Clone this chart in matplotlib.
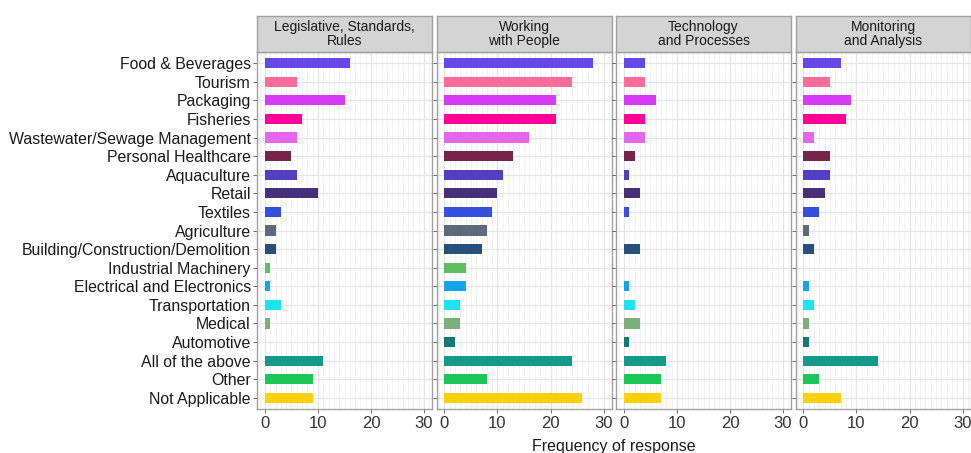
import matplotlib.pyplot as plt
from matplotlib.ticker import MultipleLocator

plt.rcParams['font.family'] = ['Liberation Sans', 'DejaVu Sans']

sectors = ["Food & Beverages", "Tourism", "Packaging", "Fisheries",
           "Wastewater/Sewage Management", "Personal Healthcare",
           "Aquaculture", "Retail", "Textiles", "Agriculture",
           "Building/Construction/Demolition", "Industrial Machinery",
           "Electrical and Electronics", "Transportation", "Medical",
           "Automotive", "All of the above", "Other", "Not Applicable"]

colours = ["#6549E8", "#FF6B9A", "#D63CF5", "#FF0099", "#E466EA",
           "#76254A", "#5240C0", "#45307A", "#3450DD", "#5E6A7C",
           "#27507A", "#5FBF5F", "#16A3EA", "#1DE3EE", "#7CB07A",
           "#117A75", "#159A8A", "#1CC755", "#FFD10A"]

panels = ["Legislative, Standards,\nRules", "Working\nwith People",
          "Technology\nand Processes", "Monitoring\nand Analysis"]

legislative = [16, 6, 15, 7, 6, 5, 6, 10, 3, 2, 2, 1, 1, 3, 1, 0, 11, 9, 9]
people = [28, 24, 21, 21, 16, 13, 11, 10, 9, 8, 7, 4, 4, 3, 3, 2, 24, 8, 26]
technology = [4, 4, 6, 4, 4, 2, 1, 3, 1, 0, 3, 0, 1, 2, 3, 1, 8, 7, 7]
monitoring = [7, 5, 9, 8, 2, 5, 5, 4, 3, 1, 2, 0, 1, 2, 1, 1, 14, 3, 7]
series = [legislative, people, technology, monitoring]

W, H = 971, 453
fig = plt.figure(figsize=(W / 100, H / 100), dpi=100)

border = "#A0A0A0"
ypos = list(range(len(sectors)))[::-1]

for i, (title, vals) in enumerate(zip(panels, series)):
    left = 257 + i * 179.5
    ax = fig.add_axes([left / W, (H - 409) / H, 175 / W, 357 / H])
    ax.barh(ypos, vals, height=0.55, color=colours, zorder=3)
    ax.set_xlim(-1.5, 31.5)
    ax.set_ylim(-0.6, len(sectors) - 0.4)
    ax.xaxis.set_major_locator(MultipleLocator(10))
    ax.xaxis.set_minor_locator(MultipleLocator(1))
    ax.grid(True, which="major", color="#E6E6E6", lw=0.9, zorder=0)
    ax.grid(True, which="minor", axis="x", color="#F0F0F0", lw=0.6, zorder=0)
    ax.set_yticks(ypos)
    if i == 0:
        ax.set_yticklabels(sectors, fontsize=11.4, color="#1A1A1A")
    else:
        ax.set_yticklabels([])
        ax.tick_params(axis="y", length=0)
    ax.tick_params(axis="both", which="major", color="#555555", length=3,
                   width=0.6)
    ax.tick_params(axis="y", pad=1.5)
    ax.tick_params(axis="x", which="minor", length=0)
    ax.tick_params(axis="x", labelsize=12, labelcolor="#333333", pad=2)
    for sp in ax.spines.values():
        sp.set_color(border)
        sp.set_linewidth(1.0)

    # strip on top
    sx = fig.add_axes([left / W, (H - 52) / H, 175 / W, 36 / H])
    sx.set_facecolor("#D4D4D4")
    sx.set_xticks([])
    sx.set_yticks([])
    for sp in sx.spines.values():
        sp.set_color(border)
        sp.set_linewidth(1.0)
    sx.text(0.5, 0.5, title, ha="center", va="center", fontsize=10,
            color="#1A1A1A", linespacing=1.05, transform=sx.transAxes)

fig.text(614 / W, (H - 447) / H, "Frequency of response", ha="center",
         va="center", fontsize=11.5, color="#1A1A1A")

fig.savefig("out.png", dpi=100)
